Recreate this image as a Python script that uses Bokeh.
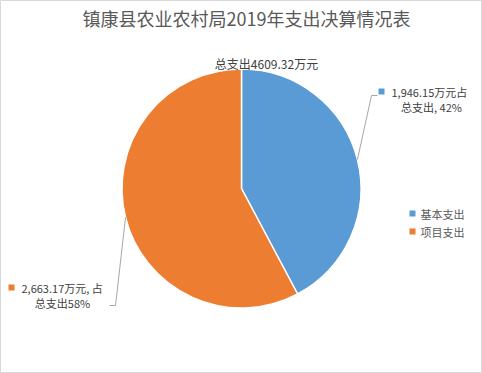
import math
from bokeh.plotting import figure
from bokeh.models import Range1d
from bokeh.core.properties import value
from bokeh.embed import file_html
from bokeh.resources import INLINE

title_text = "镇康县农业农村局2019年支出决算情况表"
categories = ["基本支出", "项目支出"]
amounts = [1946.15, 2663.17]
percents = [42, 58]
colors = ["#5B9BD5", "#ED7D31"]

FONT = value("Noto Sans CJK SC")
W, H = 482, 373

def Y(ref_y):
    # reference pixel row -> data y (1:1 scale, origin at bottom)
    return H - ref_y

p = figure(width=W, height=H, output_backend="svg", toolbar_location=None,
           x_range=Range1d(0, W), y_range=Range1d(0, H),
           min_border=0, match_aspect=False)
p.axis.visible = False
p.grid.visible = False
p.outline_line_color = "#D9D9D9"
p.outline_line_width = 1
p.background_fill_color = "white"
p.border_fill_color = "white"

cx, cy, r = 241, Y(188), 119.5
total = sum(amounts)
starts, ends, mids = [], [], []
cum = 0.0
for a in amounts:
    s = math.pi / 2 - 2 * math.pi * cum / total
    cum += a
    e = math.pi / 2 - 2 * math.pi * cum / total
    starts.append(s)
    ends.append(e)
    mids.append((s + e) / 2)

p.wedge(x=[cx] * 2, y=[cy] * 2, radius=r, start_angle=starts, end_angle=ends,
        direction="clock", fill_color=colors, line_color="white", line_width=1.5)

# title
p.text(x=[246], y=[Y(17)], text=[title_text], text_font=FONT, text_font_size="18px",
       text_color="#595959", text_align="center", text_baseline="middle")

# total label
p.text(x=[266], y=[Y(63)], text=[f"总支出{total:.2f}万元"], text_font=FONT,
       text_font_size="12px", text_color="#404040", text_align="center",
       text_baseline="middle")

# leader lines
elbows = [[(371, 95), (377, 95)], [(115, 305), (109, 305)]]
for m, el in zip(mids, elbows):
    sx = cx + r * math.cos(m)
    sy = cy + r * math.sin(m)
    xs = [sx] + [e[0] for e in el]
    ys = [sy] + [Y(e[1]) for e in el]
    p.line(xs, ys, line_color="#A6A6A6", line_width=1)

# data labels
lab_sq = [(381, 91), (11, 287)]
line1 = [f"{amounts[0]:,.2f}万元占", f"{amounts[1]:,.2f}万元, 占"]
line1_x = [391, 21]
line2 = [f"总支出, {percents[0]}%", f"总支出{percents[1]}%"]
line2_x = [431, 62]
for i in range(2):
    p.scatter(x=[lab_sq[i][0]], y=[Y(lab_sq[i][1])], marker="square", size=6,
              fill_color=colors[i], line_color=None)
    p.text(x=[line1_x[i]], y=[Y(lab_sq[i][1])], text=[line1[i]], text_font=FONT,
           text_font_size="11px", text_color="#404040", text_align="left",
           text_baseline="middle")
    p.text(x=[line2_x[i]], y=[Y(lab_sq[i][1] + 15)], text=[line2[i]], text_font=FONT,
           text_font_size="11px", text_color="#404040", text_align="center",
           text_baseline="middle")

# legend
leg_y = [213, 231]
for i, c in enumerate(categories):
    p.scatter(x=[412], y=[Y(leg_y[i])], marker="square", size=6,
              fill_color=colors[i], line_color=None)
    p.text(x=[420], y=[Y(leg_y[i])], text=[c], text_font=FONT, text_font_size="11px",
           text_color="#595959", text_align="left", text_baseline="middle")

open("out.html", "w").write(file_html(p, INLINE))
